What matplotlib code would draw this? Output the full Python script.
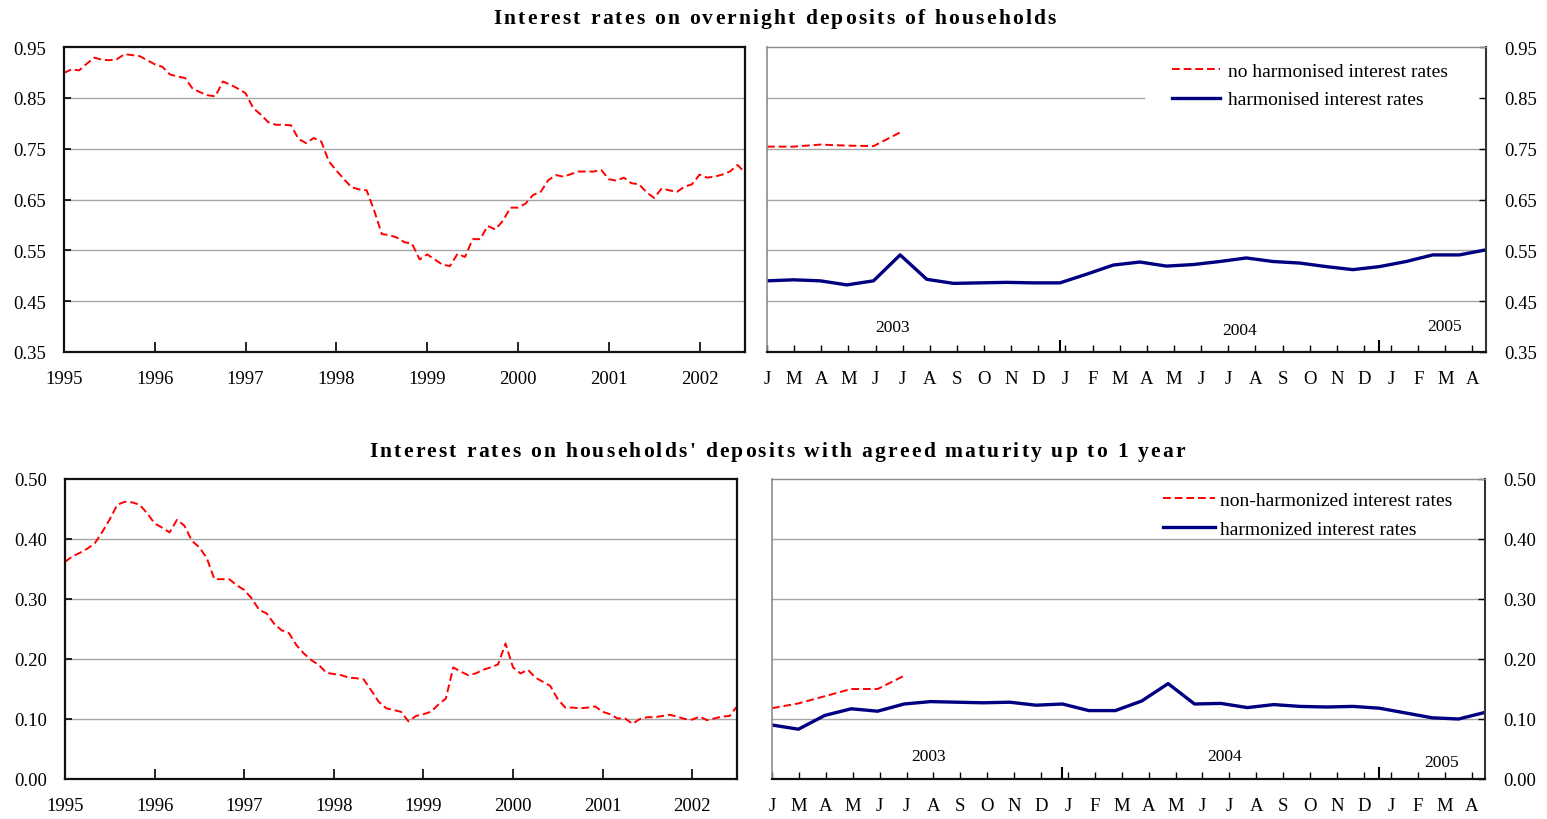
import numpy as np
import matplotlib
matplotlib.use("Agg")
import matplotlib.pyplot as plt
from matplotlib.font_manager import FontProperties, findfont, get_font

plt.rcParams["font.family"] = ["Liberation Serif", "DejaVu Serif"]
plt.rcParams["font.size"] = 13.5

# ---- data ----
# monthly, Jan 1995 .. Jul 2002
overnight_hist = [0.899, 0.906, 0.904, 0.917, 0.929, 0.925, 0.924, 0.926, 0.936, 0.934,
                  0.932, 0.924, 0.916, 0.911, 0.896, 0.892, 0.889, 0.868, 0.861, 0.855,
                  0.853, 0.882, 0.876, 0.868, 0.859, 0.830, 0.817, 0.802, 0.797, 0.797,
                  0.796, 0.769, 0.761, 0.771, 0.764, 0.725, 0.707, 0.690, 0.674, 0.670,
                  0.668, 0.628, 0.582, 0.580, 0.575, 0.566, 0.563, 0.532, 0.542, 0.532,
                  0.522, 0.519, 0.543, 0.537, 0.572, 0.572, 0.598, 0.591, 0.608, 0.634,
                  0.634, 0.642, 0.659, 0.665, 0.688, 0.698, 0.695, 0.700, 0.705, 0.705,
                  0.705, 0.708, 0.690, 0.687, 0.693, 0.682, 0.680, 0.664, 0.653, 0.672,
                  0.668, 0.665, 0.675, 0.680, 0.699, 0.693, 0.695, 0.699, 0.705, 0.718,
                  0.703]
maturity_hist = [0.362, 0.371, 0.377, 0.384, 0.393, 0.412, 0.433, 0.457, 0.462, 0.461,
                 0.457, 0.443, 0.426, 0.419, 0.411, 0.432, 0.422, 0.397, 0.386, 0.368,
                 0.333, 0.333, 0.333, 0.323, 0.315, 0.301, 0.282, 0.276, 0.259, 0.248,
                 0.243, 0.223, 0.209, 0.198, 0.190, 0.177, 0.175, 0.173, 0.169, 0.168,
                 0.166, 0.148, 0.129, 0.118, 0.115, 0.112, 0.096, 0.105, 0.108, 0.112,
                 0.124, 0.134, 0.186, 0.179, 0.173, 0.176, 0.182, 0.186, 0.191, 0.226,
                 0.186, 0.176, 0.182, 0.169, 0.162, 0.155, 0.133, 0.119, 0.119, 0.118,
                 0.119, 0.121, 0.112, 0.108, 0.101, 0.101, 0.092, 0.100, 0.103, 0.103,
                 0.105, 0.107, 0.104, 0.100, 0.099, 0.104, 0.098, 0.101, 0.104, 0.105,
                 0.121]
hist_years = [1995, 1996, 1997, 1998, 1999, 2000, 2001, 2002]

# monthly, Jan 2003 .. Apr 2005
overnight_harm = [0.490, 0.492, 0.490, 0.482, 0.490, 0.541, 0.493, 0.485, 0.486, 0.487,
                  0.486, 0.486, 0.503, 0.521, 0.527, 0.519, 0.522, 0.528, 0.535, 0.528,
                  0.525, 0.518, 0.512, 0.518, 0.528, 0.541, 0.541, 0.551]
overnight_nonharm = [0.754, 0.754, 0.758, 0.756, 0.755, 0.782]
maturity_harm = [0.090, 0.083, 0.106, 0.117, 0.113, 0.125, 0.129, 0.128, 0.127, 0.128,
                 0.123, 0.125, 0.114, 0.114, 0.130, 0.159, 0.125, 0.126, 0.119, 0.124,
                 0.121, 0.120, 0.121, 0.118, 0.110, 0.102, 0.100, 0.111]
maturity_nonharm = [0.118, 0.126, 0.138, 0.150, 0.150, 0.172]
month_labels = ["J", "M", "A", "M", "J", "J", "A", "S", "O", "N", "D",
                "J", "F", "M", "A", "M", "J", "J", "A", "S", "O", "N", "D",
                "J", "F", "M", "A"]
year_labels = ["2003", "2004", "2005"]

titles = ["Interest rates on overnight deposits of households",
          "Interest rates on households' deposits with agreed maturity up to 1 year"]
legend_top = ["no harmonised interest rates", "harmonised interest rates"]
legend_bot = ["non-harmonized interest rates", "harmonized interest rates"]

RED = "#ff0000"
NAVY = "#000080"
GRID = "#a6a6a6"

W, H = 1547, 820
fig = plt.figure(figsize=(W / 100, H / 100), dpi=100)


def axes_px(l, r, t, b):
    return fig.add_axes([l / W, 1 - b / H, (r - l) / W, (b - t) / H])


def spaced_title(s, cx, base_y, width, size):
    # title drawn letter by letter to get the wide letter spacing
    prop = FontProperties(family="Liberation Serif", weight="bold", size=size)
    font = get_font(findfont(prop))
    font.set_size(size, fig.dpi)
    adv = [font.load_char(ord(c)).linearHoriAdvance / 65536 for c in s]
    gap = (width - sum(adv)) / (len(s) - 1)
    x = cx - width / 2
    for c, a in zip(s, adv):
        fig.text(x / W, 1 - base_y / H, c, fontproperties=prop, ha="left", va="baseline")
        x += a + gap


def hist_panel(ax, values, ylim, yticks):
    x = 1995 + np.arange(len(values)) / 12
    ax.plot(x, values, color=RED, lw=1.4, dashes=(4, 2))
    ax.set_xlim(1995, 1995 + (len(values) - 1) / 12)
    ax.set_ylim(*ylim)
    ax.set_xticks(hist_years)
    ax.set_xticklabels([str(y) for y in hist_years])
    ax.set_yticks(yticks)
    ax.set_yticklabels(["%.2f" % v for v in yticks])
    for v in yticks[1:-1]:
        ax.axhline(v, color=GRID, lw=1.0, zorder=0.5)
    for sp in ax.spines.values():
        sp.set_linewidth(1.6)
        sp.set_color("#111111")
    ax.tick_params(axis="x", direction="in", length=7, width=1.2, pad=13)
    ax.tick_params(axis="y", direction="in", length=5, width=1.2, pad=13)


def recent_panel(ax, harm, nonharm, ylim, yticks, labels, year_pos, legend_pos,
                 hl, htp, cut_grid=None):
    ax.plot(np.arange(len(nonharm)), nonharm, color=RED, lw=1.4, dashes=(4, 2),
            label=labels[0])
    ax.plot(np.arange(len(harm)), harm, color=NAVY, lw=2.4, label=labels[1])
    ax.set_xlim(0, len(harm) - 1)
    ax.set_ylim(*ylim)
    pos = np.arange(len(month_labels)) * 27 / 26.5
    ax.set_xticks(pos)
    ax.set_xticklabels(month_labels)
    ax.set_xticks([11, 23], minor=True)
    ax.yaxis.tick_right()
    ax.set_yticks(yticks)
    ax.set_yticklabels(["%.2f" % v for v in yticks])
    for v in yticks[1:-1]:
        xmax = cut_grid if (cut_grid is not None and v == yticks[-2]) else 1
        ax.axhline(v, xmax=xmax, color=GRID, lw=1.0, zorder=0.5)
    ax.spines["left"].set_color("#8c8c8c")
    ax.spines["top"].set_color("#8c8c8c")
    ax.spines["left"].set_linewidth(1.2)
    ax.spines["top"].set_linewidth(1.0)
    ax.spines["right"].set_color("#333333")
    ax.spines["right"].set_linewidth(1.5)
    ax.spines["bottom"].set_color("#111111")
    ax.spines["bottom"].set_linewidth(1.6)
    ax.tick_params(axis="x", which="major", direction="in", length=5, width=1.0, pad=13)
    ax.tick_params(axis="x", which="minor", direction="in", length=9, width=1.5)
    ax.tick_params(axis="y", direction="in", length=5, width=1.0, pad=13)
    for lab, (xp, yp) in zip(year_labels, year_pos):
        ax.text(xp, yp, lab, ha="center", va="center", fontsize=12.5)
    ax.legend(loc="upper left", bbox_to_anchor=legend_pos, frameon=False,
              fontsize=14, borderpad=0, borderaxespad=0, handlelength=hl,
              handletextpad=htp, labelspacing=0.56)


# top row
ax1 = axes_px(64, 745, 48, 353)
hist_panel(ax1, overnight_hist, (0.35, 0.95), [0.35, 0.45, 0.55, 0.65, 0.75, 0.85, 0.95])
ax2 = axes_px(767, 1486, 48, 353)
recent_panel(ax2, overnight_harm, overnight_nonharm, (0.35, 0.95),
             [0.35, 0.45, 0.55, 0.65, 0.75, 0.85, 0.95], legend_top,
             [(4.73, 0.399), (17.76, 0.393), (25.46, 0.401)], (0.563, 0.950),
             2.47, 0.4, cut_grid=0.524)

# bottom row
ax3 = axes_px(65, 737, 480, 780)
hist_panel(ax3, maturity_hist, (0.0, 0.5), [0.0, 0.1, 0.2, 0.3, 0.4, 0.5])
ax4 = axes_px(772, 1485, 480, 780)
recent_panel(ax4, maturity_harm, maturity_nonharm, (0.0, 0.5),
             [0.0, 0.1, 0.2, 0.3, 0.4, 0.5], legend_bot,
             [(5.94, 0.038), (17.15, 0.038), (25.37, 0.028)], (0.548, 0.958),
             2.68, 0.26)

spaced_title(titles[0], 774.5, 24, 563, 15.5)
spaced_title(titles[1], 777, 457, 816, 15.5)

fig.savefig("out.png", dpi=100)
